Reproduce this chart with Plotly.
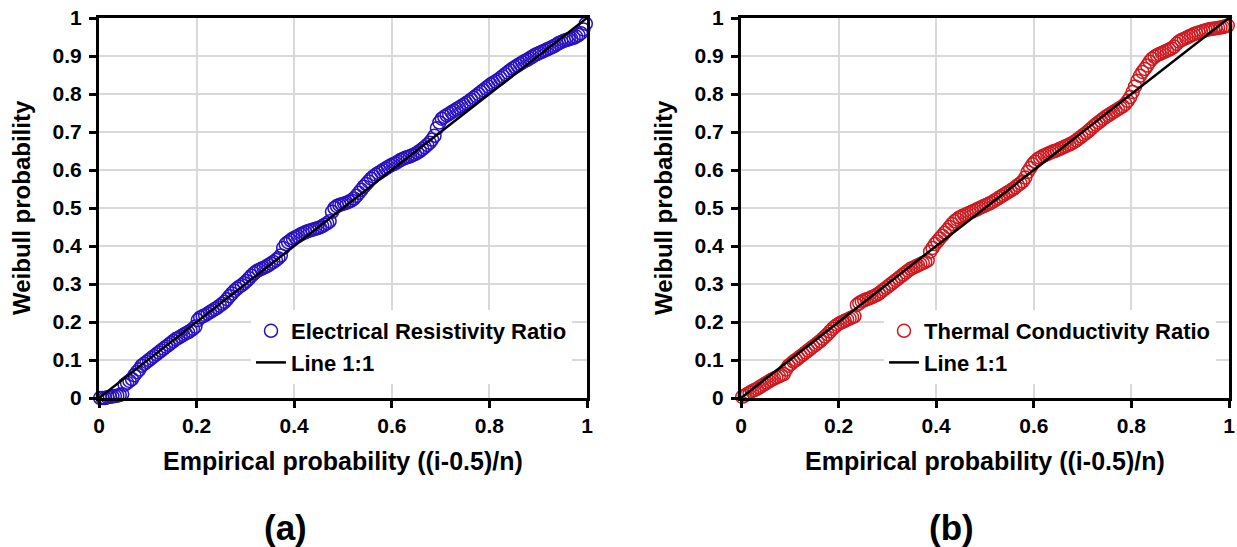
import plotly.graph_objects as go

EMP_PROB = [
    0.0025, 0.0075, 0.0125, 0.0175, 0.0225, 0.0275, 0.0325, 0.0375, 0.0425, 0.0475,
    0.0525, 0.0575, 0.0625, 0.0675, 0.0725, 0.0775, 0.0825, 0.0875, 0.0925, 0.0975,
    0.1025, 0.1075, 0.1125, 0.1175, 0.1225, 0.1275, 0.1325, 0.1375, 0.1425, 0.1475,
    0.1525, 0.1575, 0.1625, 0.1675, 0.1725, 0.1775, 0.1825, 0.1875, 0.1925, 0.1975,
    0.2025, 0.2075, 0.2125, 0.2175, 0.2225, 0.2275, 0.2325, 0.2375, 0.2425, 0.2475,
    0.2525, 0.2575, 0.2625, 0.2675, 0.2725, 0.2775, 0.2825, 0.2875, 0.2925, 0.2975,
    0.3025, 0.3075, 0.3125, 0.3175, 0.3225, 0.3275, 0.3325, 0.3375, 0.3425, 0.3475,
    0.3525, 0.3575, 0.3625, 0.3675, 0.3725, 0.3775, 0.3825, 0.3875, 0.3925, 0.3975,
    0.4025, 0.4075, 0.4125, 0.4175, 0.4225, 0.4275, 0.4325, 0.4375, 0.4425, 0.4475,
    0.4525, 0.4575, 0.4625, 0.4675, 0.4725, 0.4775, 0.4825, 0.4875, 0.4925, 0.4975,
    0.5025, 0.5075, 0.5125, 0.5175, 0.5225, 0.5275, 0.5325, 0.5375, 0.5425, 0.5475,
    0.5525, 0.5575, 0.5625, 0.5675, 0.5725, 0.5775, 0.5825, 0.5875, 0.5925, 0.5975,
    0.6025, 0.6075, 0.6125, 0.6175, 0.6225, 0.6275, 0.6325, 0.6375, 0.6425, 0.6475,
    0.6525, 0.6575, 0.6625, 0.6675, 0.6725, 0.6775, 0.6825, 0.6875, 0.6925, 0.6975,
    0.7025, 0.7075, 0.7125, 0.7175, 0.7225, 0.7275, 0.7325, 0.7375, 0.7425, 0.7475,
    0.7525, 0.7575, 0.7625, 0.7675, 0.7725, 0.7775, 0.7825, 0.7875, 0.7925, 0.7975,
    0.8025, 0.8075, 0.8125, 0.8175, 0.8225, 0.8275, 0.8325, 0.8375, 0.8425, 0.8475,
    0.8525, 0.8575, 0.8625, 0.8675, 0.8725, 0.8775, 0.8825, 0.8875, 0.8925, 0.8975,
    0.9025, 0.9075, 0.9125, 0.9175, 0.9225, 0.9275, 0.9325, 0.9375, 0.9425, 0.9475,
    0.9525, 0.9575, 0.9625, 0.9675, 0.9725, 0.9775, 0.9825, 0.9875, 0.9925, 0.9975,
]

WEIBULL_ELEC = [
    0.0, 0.0, 0.0, 0.002, 0.003, 0.004, 0.005, 0.006, 0.008, 0.01,
    0.035, 0.04, 0.045, 0.05, 0.06, 0.068, 0.075, 0.085, 0.09, 0.095,
    0.1, 0.105, 0.11, 0.115, 0.12, 0.125, 0.13, 0.135, 0.14, 0.145,
    0.15, 0.155, 0.158, 0.162, 0.166, 0.17, 0.173, 0.177, 0.182, 0.188,
    0.205, 0.212, 0.215, 0.218, 0.222, 0.226, 0.23, 0.234, 0.238, 0.243,
    0.248, 0.253, 0.26, 0.268, 0.275, 0.282, 0.288, 0.293, 0.297, 0.302,
    0.308, 0.315, 0.322, 0.328, 0.333, 0.337, 0.34, 0.343, 0.346, 0.35,
    0.354, 0.358, 0.363, 0.368, 0.375, 0.395, 0.405, 0.41, 0.415, 0.42,
    0.423, 0.426, 0.43, 0.433, 0.436, 0.439, 0.441, 0.443, 0.445, 0.447,
    0.449, 0.452, 0.456, 0.46, 0.465, 0.49, 0.5, 0.505, 0.508, 0.51,
    0.512, 0.514, 0.517, 0.52, 0.525, 0.532, 0.54, 0.548, 0.556, 0.563,
    0.57, 0.577, 0.583, 0.588, 0.592, 0.596, 0.6, 0.604, 0.608, 0.612,
    0.615, 0.618, 0.622, 0.626, 0.629, 0.632, 0.634, 0.636, 0.639, 0.642,
    0.646, 0.65, 0.655, 0.66, 0.666, 0.672, 0.68, 0.69, 0.71, 0.725,
    0.735, 0.74, 0.744, 0.748, 0.752, 0.756, 0.76, 0.764, 0.768, 0.772,
    0.776, 0.78, 0.785, 0.79, 0.795, 0.8, 0.805, 0.81, 0.815, 0.82,
    0.825, 0.829, 0.833, 0.837, 0.842, 0.847, 0.852, 0.857, 0.862, 0.867,
    0.871, 0.875, 0.879, 0.883, 0.887, 0.89, 0.894, 0.898, 0.902, 0.905,
    0.908, 0.911, 0.914, 0.917, 0.92, 0.923, 0.926, 0.93, 0.934, 0.937,
    0.94, 0.942, 0.944, 0.946, 0.948, 0.951, 0.955, 0.96, 0.97, 0.985,
]

WEIBULL_THERM = [
    0.003, 0.006, 0.01, 0.014, 0.018, 0.021, 0.024, 0.028, 0.032, 0.036,
    0.04, 0.044, 0.048, 0.051, 0.054, 0.057, 0.06, 0.063, 0.075, 0.085,
    0.09, 0.096, 0.1, 0.105, 0.11, 0.115, 0.12, 0.125, 0.13, 0.135,
    0.14, 0.145, 0.15, 0.156, 0.162, 0.168, 0.175, 0.182, 0.188, 0.193,
    0.197, 0.2, 0.203, 0.206, 0.209, 0.212, 0.215, 0.245, 0.25, 0.254,
    0.257, 0.26, 0.262, 0.265, 0.268, 0.271, 0.275, 0.28, 0.285, 0.29,
    0.295, 0.3, 0.305, 0.31, 0.315, 0.32, 0.325, 0.33, 0.335, 0.34,
    0.343, 0.346, 0.349, 0.352, 0.355, 0.358, 0.362, 0.385, 0.395, 0.405,
    0.412, 0.42, 0.427, 0.435, 0.442, 0.45, 0.458, 0.465, 0.47, 0.475,
    0.478, 0.481, 0.484, 0.487, 0.49, 0.493, 0.496, 0.499, 0.502, 0.505,
    0.508, 0.511, 0.514, 0.518, 0.522, 0.526, 0.53, 0.534, 0.538, 0.542,
    0.546, 0.55, 0.555, 0.56, 0.565, 0.57, 0.58, 0.595, 0.605, 0.615,
    0.622, 0.628, 0.632, 0.636, 0.639, 0.642, 0.645, 0.648, 0.65, 0.652,
    0.655, 0.658, 0.661, 0.664, 0.667, 0.67, 0.674, 0.678, 0.683, 0.688,
    0.693, 0.698, 0.703, 0.709, 0.715, 0.72, 0.725, 0.73, 0.735, 0.74,
    0.744, 0.748, 0.752, 0.756, 0.76, 0.764, 0.768, 0.774, 0.782, 0.792,
    0.805, 0.82, 0.835, 0.848, 0.858, 0.866, 0.875, 0.885, 0.893, 0.898,
    0.902, 0.905, 0.908, 0.911, 0.914, 0.917, 0.92, 0.925, 0.932, 0.938,
    0.942, 0.945, 0.948, 0.951, 0.954, 0.957, 0.96, 0.962, 0.964, 0.966,
    0.968, 0.97, 0.971, 0.972, 0.973, 0.974, 0.975, 0.976, 0.978, 0.98,
]

LINE_X = [0, 1]
LINE_Y = [0, 1]

TICKS_X = [0, 0.2, 0.4, 0.6, 0.8, 1]
TICKS_X_TEXT = ["0", "0.2", "0.4", "0.6", "0.8", "1"]
TICKS_Y = [0, 0.1, 0.2, 0.3, 0.4, 0.5, 0.6, 0.7, 0.8, 0.9, 1]
TICKS_Y_TEXT = ["0", "0.1", "0.2", "0.3", "0.4", "0.5", "0.6", "0.7", "0.8", "0.9", "1"]

X_TITLE = "Empirical probability ((i-0.5)/n)"
Y_TITLE = "Weibull probability"
SERIES_A = "Electrical Resistivity Ratio"
SERIES_B = "Thermal Conductivity Ratio"
LINE_NAME = "Line 1:1"
PANEL_LABELS = ["(a)", "(b)"]

FONT = "Liberation Sans, Arial, sans-serif"
BLUE = "#2A10BE"
RED = "#CC1A20"

fig = go.Figure()

fig.add_trace(go.Scatter(x=EMP_PROB, y=WEIBULL_ELEC, mode="markers", name=SERIES_A,
                         marker=dict(symbol="circle-open", size=13, color=BLUE, line=dict(width=1.5, color=BLUE)),
                         cliponaxis=False, xaxis="x", yaxis="y", legend="legend"))
fig.add_trace(go.Scatter(x=LINE_X, y=LINE_Y, mode="lines", name=LINE_NAME,
                         line=dict(color="black", width=2.5),
                         xaxis="x", yaxis="y", legend="legend"))

fig.add_trace(go.Scatter(x=EMP_PROB, y=WEIBULL_THERM, mode="markers", name=SERIES_B,
                         marker=dict(symbol="circle-open", size=13, color=RED, line=dict(width=1.5, color=RED)),
                         cliponaxis=False, xaxis="x2", yaxis="y2", legend="legend2"))
fig.add_trace(go.Scatter(x=LINE_X, y=LINE_Y, mode="lines", name=LINE_NAME,
                         line=dict(color="black", width=2.5),
                         xaxis="x2", yaxis="y2", legend="legend2"))

W, H = 1237, 547
Y_TOP, Y_BOT = 18, 398
ydom = [1 - Y_BOT / H, 1 - Y_TOP / H]
XA = (99, 587)
XB = (741, 1229)
LABEL_CX = [285, 951]

tickfont = dict(family=FONT, size=21, color="black", weight="bold")

def xaxis(dom, anchor):
    return dict(domain=dom, anchor=anchor, range=[0, 1], tickvals=TICKS_X, ticktext=TICKS_X_TEXT,
                showgrid=True, gridcolor="#D9D9D9", gridwidth=1.5, zeroline=False,
                showline=True, linecolor="black", linewidth=3, mirror=True,
                ticks="outside", ticklen=7, tickwidth=2.5, tickcolor="black",
                ticklabelstandoff=0, automargin=False, tickfont=tickfont)

def yaxis(dom, anchor):
    return dict(domain=dom, anchor=anchor, range=[0, 1], tickvals=TICKS_Y, ticktext=TICKS_Y_TEXT,
                showgrid=True, gridcolor="#D9D9D9", gridwidth=1.5, zeroline=False,
                showline=True, linecolor="black", linewidth=3, mirror=True,
                ticks="outside", ticklen=7, tickwidth=2.5, tickcolor="black",
                ticklabelstandoff=3, automargin=False, tickfont=tickfont)

leg_font = dict(family=FONT, size=22, color="black", weight="bold")
xt_font = dict(family=FONT, size=25, color="black", weight="bold")
yt_font = dict(family=FONT, size=24, color="black", weight="bold")
lab_font = dict(family=FONT, size=35, color="black", weight="bold")

annotations = []
for (x0, x1), lab, lcx in zip((XA, XB), PANEL_LABELS, LABEL_CX):
    cx = (x0 + x1) / 2 / W
    annotations.append(dict(text=X_TITLE, x=cx, y=1 - 461 / H, xref="paper", yref="paper",
                            xanchor="center", yanchor="middle", showarrow=False, font=xt_font))
    annotations.append(dict(text=Y_TITLE, x=(x0 - 78) / W, y=1 - (Y_TOP + Y_BOT) / 2 / H,
                            xref="paper", yref="paper", xanchor="center", yanchor="middle",
                            textangle=-90, showarrow=False, font=yt_font))
    annotations.append(dict(text=lab, x=lcx / W, y=1 - 527 / H, xref="paper", yref="paper",
                            xanchor="center", yanchor="middle", showarrow=False, font=lab_font))

fig.update_layout(
    width=W, height=H,
    margin=dict(l=0, r=0, t=0, b=0),
    paper_bgcolor="white", plot_bgcolor="white",
    showlegend=True,
    xaxis=xaxis([XA[0] / W, XA[1] / W], "y"),
    yaxis=yaxis(ydom, "x"),
    xaxis2=xaxis([XB[0] / W, XB[1] / W], "y2"),
    yaxis2=yaxis(ydom, "x2"),
    legend=dict(x=251 / W, y=1 - 310 / H, xanchor="left", yanchor="top", bgcolor="white",
                font=leg_font, tracegroupgap=0, itemwidth=30),
    legend2=dict(x=884 / W, y=1 - 310 / H, xanchor="left", yanchor="top", bgcolor="white",
                 font=leg_font, tracegroupgap=0, itemwidth=30),
    annotations=annotations,
)

fig.write_html("out.html", config={"displayModeBar": False},
               post_script="document.body.style.margin='0';document.body.style.overflow='hidden';")
